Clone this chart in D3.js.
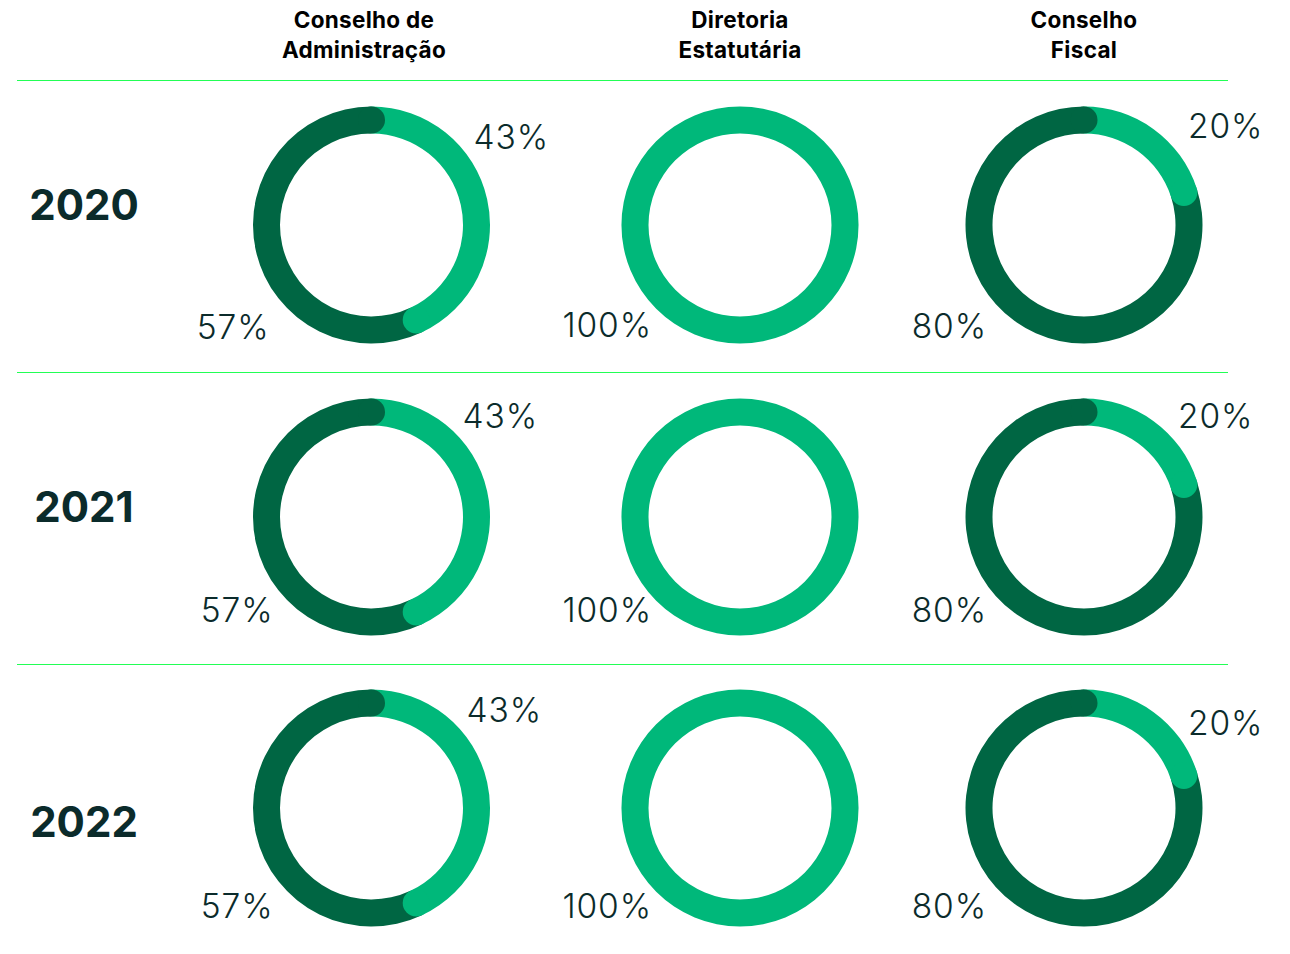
<!DOCTYPE html>
<html>
<head>
<meta charset="utf-8">
<script src="https://cdn.jsdelivr.net/npm/d3@7"></script>
<style>
  html, body { margin: 0; padding: 0; background: #fff; }
  svg { display: block; }
</style>
</head>
<body>
<svg id="chart" width="1290" height="954"></svg>
<script>
// ---- Data ----
const years = ["2020", "2021", "2022"];
const groups = ["Conselho de\nAdministração", "Diretoria\nEstatutária", "Conselho\nFiscal"];
// share of the light-green segment (%) per year x group
const lightShare = [
  [43, 100, 20],
  [43, 100, 20],
  [43, 100, 20]
];
// share of the dark-green segment (%) per year x group
const darkShare = [
  [57, 0, 80],
  [57, 0, 80],
  [57, 0, 80]
];
const labelOf = v => v + "%";

// ---- Layout (not data) ----
const colCenters = [371.5, 740, 1084];
const headerCenters = [364, 740, 1084];
const rowCenters = [225, 517, 808];
const yearLabelY = [204.5, 506.5, 821.5];
const outerR = 118.5, innerR = 91.5;
const lineYs = [80.5, 372.5, 664.5];
const lightLabelOff = [
  [[102, -76], null, [104, -87]],
  [[91, -89], null, [94, -89]],
  [[95, -86], null, [104, -73]]
];
const darkLabelOff = [
  [[-102, 114], [-88, 112], [-97, 113]],
  [[-98, 105], [-88, 105], [-97, 105]],
  [[-98, 110], [-88, 110], [-97, 110]]
];

const LIGHT = "#00b87a", DARK = "#006643", TEXT = "#0b2b2b", RULE = "#22ff55";
const FONT = "Inter, 'Liberation Sans', sans-serif";

const svg = d3.select("#chart");

svg.selectAll("line.rule").data(lineYs).join("line")
  .attr("x1", 17).attr("x2", 1228)
  .attr("y1", d => d).attr("y2", d => d)
  .attr("stroke", RULE).attr("stroke-width", 1.2);

groups.forEach((g, i) => {
  const lines = g.split("\n");
  const t = svg.append("text")
    .attr("x", headerCenters[i]).attr("y", 28)
    .attr("text-anchor", "middle")
    .attr("font-family", FONT)
    .attr("font-weight", 700).attr("font-size", 22.5)
    .attr("letter-spacing", 0.3)
    .attr("fill", "#000");
  lines.forEach((l, k) => t.append("tspan").attr("x", headerCenters[i]).attr("dy", k === 0 ? 0 : 30).text(l));
});

svg.selectAll("text.year").data(years).join("text")
  .attr("class", "year")
  .attr("x", 84).attr("y", (d, i) => yearLabelY[i])
  .attr("dy", "0.36em")
  .attr("text-anchor", "middle")
  .attr("font-family", FONT)
  .attr("font-weight", 700).attr("font-size", 42)
  .attr("fill", TEXT)
  .text(d => d);

const arc = d3.arc().innerRadius(innerR).outerRadius(outerR);
const midR = (innerR + outerR) / 2, capR = (outerR - innerR) / 2;
const pie = d3.pie().sort(null).value(d => d.v);

years.forEach((y, r) => {
  groups.forEach((g, c) => {
    const cx = colCenters[c], cy = rowCenters[r];
    const gEl = svg.append("g").attr("transform", `translate(${cx},${cy})`);
    const parts = [
      { k: "light", v: lightShare[r][c], color: LIGHT },
      { k: "dark", v: darkShare[r][c], color: DARK }
    ];
    const arcs = pie(parts);
    gEl.selectAll("path").data(arcs.filter(a => a.data.v > 0)).join("path")
      .attr("d", arc).attr("fill", d => d.data.color);

    if (arcs.every(a => a.data.v > 0)) {
      arcs.forEach(a => {
        const ang = a.endAngle;
        gEl.append("circle")
          .attr("cx", midR * Math.sin(ang))
          .attr("cy", -midR * Math.cos(ang))
          .attr("r", capR)
          .attr("fill", a.data.color);
      });
    }

    const addLabel = (o, anchor, v) => svg.append("text")
      .attr("x", cx + o[0]).attr("y", cy + o[1])
      .attr("font-family", FONT).attr("font-weight", 300).attr("font-size", 33.5)
      .attr("letter-spacing", 0.9)
      .attr("fill", TEXT).attr("text-anchor", anchor)
      .text(labelOf(v));

    if (lightShare[r][c] > 0 && lightShare[r][c] < 100) {
      addLabel(lightLabelOff[r][c], "start", lightShare[r][c]);
    }
    const v2 = darkShare[r][c] > 0 ? darkShare[r][c] : lightShare[r][c];
    addLabel(darkLabelOff[r][c], "end", v2);
  });
});
</script>
</body>
</html>
